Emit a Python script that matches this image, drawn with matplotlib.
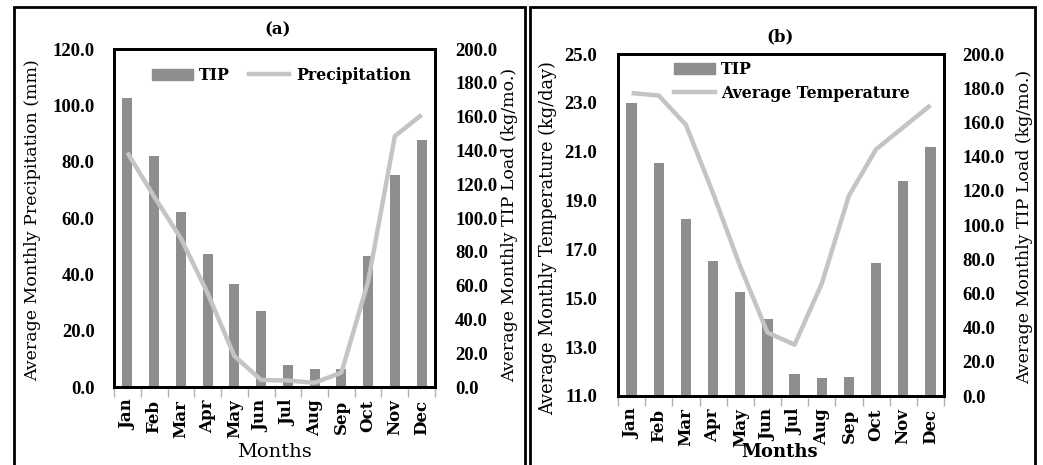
import numpy as np
import matplotlib.pyplot as plt
from matplotlib.patches import Rectangle
from matplotlib.lines import Line2D

plt.rcParams['font.family'] = ['DejaVu Serif']

months = ['Jan', 'Feb', 'Mar', 'Apr', 'May', 'Jun',
          'Jul', 'Aug', 'Sep', 'Oct', 'Nov', 'Dec']
# TIP load (kg/mo.), same series in both panels
tip_load = [171.2, 136.5, 103.4, 78.7, 61.1, 45.0, 13.0, 10.7, 10.9, 77.7, 125.7, 145.9]
# average monthly precipitation (mm)
precip = [83.2, 67.6, 52.8, 33.3, 11.0, 2.5, 2.3, 1.5, 5.1, 37.4, 89.1, 96.6]
# average monthly temperature
temp = [23.4, 23.3, 22.1, 19.3, 16.3, 13.6, 13.1, 15.6, 19.2, 21.1, 22.0, 22.9]

W, H = 1043, 465
BAR = '#8e8e8e'
LINE = '#c4c4c4'
NUM = {'family': 'Liberation Serif', 'weight': 'bold', 'size': 13.5}


def px(l, t, r, b):
    return [l / W, 1 - b / H, (r - l) / W, (b - t) / H]


def panel(fig, rect, vals, ylim, yticks, line_label, ncol, leg_anchor, pads):
    ax = fig.add_axes(px(*rect))
    ax2 = ax.twinx()
    x = np.arange(12)
    ax2.bar(x, tip_load, width=0.38, color=BAR, label='TIP')
    ax.plot(x, vals, color=LINE, lw=3.2, label=line_label, solid_capstyle='butt')
    # line sits above the bars
    ax.set_zorder(ax2.get_zorder() + 1)
    ax.patch.set_visible(False)

    ax.set_xlim(-0.5, 11.5)
    ax.set_ylim(*ylim)
    ax.set_yticks(yticks)
    ax.set_yticklabels(['%.1f' % v for v in yticks], fontdict=NUM)
    ax2.set_ylim(0, 200)
    r_ticks = np.arange(0, 201, 20)
    ax2.set_yticks(r_ticks)
    ax2.set_yticklabels(['%.1f' % v for v in r_ticks], fontdict=NUM)
    ax.tick_params(axis='y', length=0, pad=pads[0])
    ax2.tick_params(axis='y', length=0, pad=pads[1])
    for a in (ax, ax2):
        for s in a.spines.values():
            s.set_linewidth(2)

    ax.set_xticks(x)
    ax.set_xticklabels(months, rotation=90, fontsize=12, fontweight='bold')
    ax.set_xticks(np.arange(-0.5, 12, 1), minor=True)
    ax.tick_params(axis='x', which='major', length=0, pad=9)
    ax.tick_params(axis='x', which='minor', length=7, color='#b0b0b0', width=1)

    handles = [Rectangle((0, 0), 1, 1, color=BAR),
               Line2D([], [], color=LINE, lw=3.2)]
    ax.legend(handles, ['TIP', line_label], ncol=ncol, frameon=False,
              loc='center left', bbox_to_anchor=leg_anchor,
              prop={'weight': 'bold', 'size': 11.3}, handlelength=2.6,
              handleheight=0.7, handletextpad=0.4, columnspacing=1.2,
              labelspacing=0.45, borderaxespad=0, borderpad=0)
    return ax, ax2


fig = plt.figure(figsize=(W / 100, H / 100), dpi=100)

# outer frames around each panel
for l, r in [(13.5, 525), (529.5, 1035)]:
    fig.patches.append(Rectangle((l / W, -0.1), (r - l) / W, 1 - 7 / H + 0.1,
                                 transform=fig.transFigure, fill=False,
                                 lw=2, ec='black'))

panel(fig, (114, 49, 435, 387), precip, (0, 120), np.arange(0, 121, 20),
      'Precipitation', 2, (0.118, 0.923), (14, 14.5))
panel(fig, (618, 54, 944, 396), temp, (11, 25), np.arange(11, 26, 2),
      'Average Temperature', 1, (0.172, 0.92), (15, 13.5))

fig.text(278 / W, 1 - 30 / H, '(a)', ha='center', va='center',
         fontsize=12, fontweight='bold')
fig.text(780 / W, 1 - 37 / H, '(b)', ha='center', va='center',
         fontsize=12, fontweight='bold')
fig.text(274 / W, 1 - 452 / H, 'Months', ha='center', va='center', fontsize=14)
fig.text(780 / W, 1 - 452 / H, 'Months', ha='center', va='center',
         fontsize=13, fontweight='bold')

fig.text(33 / W, 1 - 220 / H, 'Average Monthly Precipitation (mm)',
         rotation=90, ha='center', va='center', fontsize=12.5)
fig.text(510 / W, 1 - 225 / H, 'Average Monthly TIP Load (kg/mo.)',
         rotation=90, ha='center', va='center', fontsize=12.5)
fig.text(548 / W, 1 - 238 / H, 'Average Monthly Temperature (kg/day)',
         rotation=90, ha='center', va='center', fontsize=12.8)
fig.text(1025 / W, 1 - 227 / H, 'Average Monthly TIP Load (kg/mo.)',
         rotation=90, ha='center', va='center', fontsize=12.5)

plt.savefig('out.png', dpi=100)
